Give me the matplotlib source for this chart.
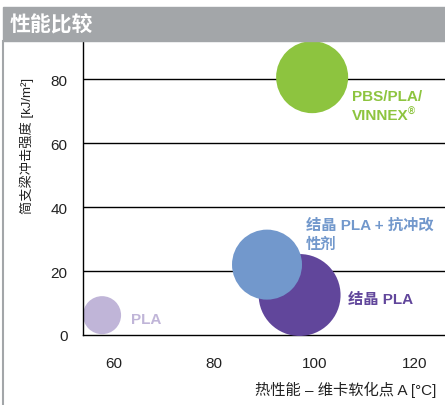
import matplotlib
matplotlib.use("Agg")
from matplotlib import pyplot as plt
from matplotlib.patches import Rectangle
from matplotlib.lines import Line2D

plt.rcParams['font.family'] = ['Liberation Sans', 'Noto Sans CJK SC', 'DejaVu Sans']

# dados
materiais = ['PLA', '结晶 PLA', '结晶 PLA + 抗冲改性剂', 'PBS/PLA/VINNEX']
vicat = [57.6, 97.0, 90.5, 99.5]          # ponto de amolecimento Vicat A [°C]
impacto = [6.2, 12.5, 22.0, 80.6]         # resistencia ao impacto [kJ/m2]
tamanho = [750, 3480, 2540, 2690]         # tamanho da bolha
rotulos = [['PLA'], ['结晶 PLA'], ['结晶 PLA + 抗冲改', '性剂'], ['PBS/PLA/', 'VINNEX']]
xticks = [60, 80, 100, 120]
yticks = [0, 20, 40, 60, 80]

cores = ['#c0b5d8', '#61469b', '#7298cc', '#8dc43f']
pos_rotulo = [(63.4, 5.0), (106.6, 11.2), (98.3, 34.4), (107.4, 74.7)]
passo_linha = 5.8   # distancia entre linhas do rotulo (unidades de y)

fig = plt.figure(figsize=(4.45, 4.06), dpi=100)
ax = fig.add_axes([83/445, 1 - 336/406, 1 - 83/445, (336 - 42)/406])

ax.set_xlim(53.8, 126.0)
ax.set_ylim(0, 91.9)

# linhas de grade horizontais
for y in yticks[1:]:
    ax.axhline(y, color='black', lw=1.0, zorder=1)

# bolhas
for i in range(len(materiais)):
    ax.scatter(vicat[i], impacto[i], s=tamanho[i], color=cores[i],
               edgecolors='none', zorder=2 + i, clip_on=False)

# rotulos das bolhas
ultimo = None
for i in range(len(materiais)):
    for j, linha in enumerate(rotulos[i]):
        ultimo = ax.text(pos_rotulo[i][0], pos_rotulo[i][1] - j*passo_linha, linha,
                         color=cores[i], fontsize=11, fontweight='bold',
                         ha='left', va='center', zorder=10)
# simbolo de marca registrada do VINNEX
ax.annotate('®', xy=(1, 0.75), xycoords=ultimo, ha='left', va='center',
            fontsize=7, fontweight='bold', color=cores[3])

ax.set_xticks(xticks)
ax.set_yticks(yticks)
ax.tick_params(axis='both', length=0, labelsize=11, labelcolor='#222222')
ax.tick_params(axis='x', pad=15)
ax.tick_params(axis='y', pad=11)
for s in ['top', 'right']:
    ax.spines[s].set_visible(False)
for s in ['left', 'bottom']:
    ax.spines[s].set_color('black')
    ax.spines[s].set_linewidth(1.0)

# barra de titulo cinza e borda esquerda
fig.patches.append(Rectangle((3/445, 1 - 42/406), 1, 34/406, transform=fig.transFigure,
                             color='#a3a6a9', zorder=20))
fig.lines.append(Line2D([3/445, 3/445], [0, 1 - 42/406], transform=fig.transFigure,
                        color='#a3a6a9', lw=1.5))
fig.text(10/445, 1 - 25/406, '性能比较', color='white', fontsize=15, fontweight='bold',
         ha='left', va='center', zorder=21)

fig.text(27/445, 1 - 146/406, '简支梁冲击强度 [kJ/m²]', rotation=90, fontsize=9.5,
         color='#222222', ha='center', va='center')
fig.text(436/445, 1 - 390/406, '热性能 – 维卡软化点 A [°C]', fontsize=11,
         color='#222222', ha='right', va='center')

fig.savefig('out.png', dpi=100)
